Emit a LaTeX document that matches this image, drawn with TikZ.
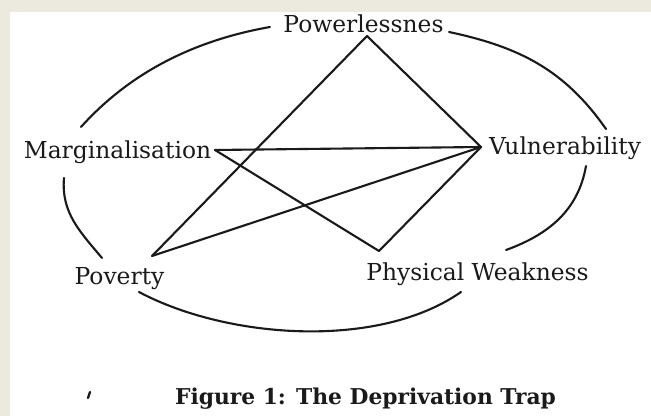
\documentclass[tikz,border=0pt]{standalone}
\usepackage{fontspec}
\setmainfont{DejaVu Serif}
\definecolor{page}{HTML}{ECEADF}
\definecolor{ink}{HTML}{1A1A1A}
\tikzset{
  lbl/.style={font=\fontsize{13.3}{16}\selectfont, anchor=base, inner sep=0pt, text=ink},
  link/.style={draw=ink, line width=1.2pt, line cap=round},
}
\begin{document}
\begin{tikzpicture}
    \fill[page] (0,0) rectangle (13.02,-8.32);
    \fill[white] (0.20,-0.24) rectangle (13.02,-8.32);
    \useasboundingbox (0,0) rectangle (13.02,-8.32);
    % labels
    \node[lbl] (pow) at (7.27,-0.66) {Powerlessnes};
    \node[lbl] (marg) at (2.35,-3.18) {Marginalisation};
    \node[lbl] (vuln) at (11.30,-3.10) {Vulnerability};
    \node[lbl] (pov) at (2.39,-5.70) {Poverty};
    \node[lbl] (phys) at (9.55,-5.62) {Physical Weakness};
    \node[lbl, font=\bfseries\fontsize{12.4}{15}\selectfont] (cap) at (7.31,-8.08) {Figure 1: The Deprivation Trap};
    % corners of the star
    \coordinate (t) at (7.34,-0.72);
    \coordinate (l) at (4.30,-3.00);
    \coordinate (r) at (9.62,-2.94);
    \coordinate (pl) at (3.04,-5.12);
    \coordinate (pr) at (7.58,-5.02);
    \draw[link] (t) -- (pl);
    \draw[link] (t) -- (r);
    \draw[link] (l) -- (r);
    \draw[link] (l) -- (pr);
    \draw[link] (r) -- (pl);
    \draw[link] (r) -- (pr);
    % the ring
    \coordinate (a1) at (1.62,-2.54);
    \coordinate (a2) at (5.40,-0.54);
    \coordinate (b1) at (8.98,-0.64);
    \coordinate (b2) at (12.12,-2.58);
    \coordinate (c1) at (1.28,-3.56);
    \coordinate (c2) at (2.04,-5.16);
    \coordinate (d1) at (11.72,-3.32);
    \coordinate (d2) at (10.12,-5.00);
    \coordinate (e1) at (2.78,-5.84);
    \coordinate (e2) at (9.22,-5.84);
    \draw[link] (a1) to [out=48, in=190, looseness=0.9] (a2);
    \draw[link] (b1) to [out=-12, in=125] (b2);
    \draw[link] (c1) to [out=-95, in=130] (c2);
    \draw[link] (d1) to [out=-100, in=20] (d2);
    \draw[link] (e1) to [out=-28, in=215, looseness=0.8] (e2);
    % stray mark
    \coordinate (m1) at (1.76,-7.96);
    \coordinate (m2) at (1.80,-7.84);
    \draw[link, line width=1.3pt] (m1) -- (m2);
\end{tikzpicture}
\end{document}
